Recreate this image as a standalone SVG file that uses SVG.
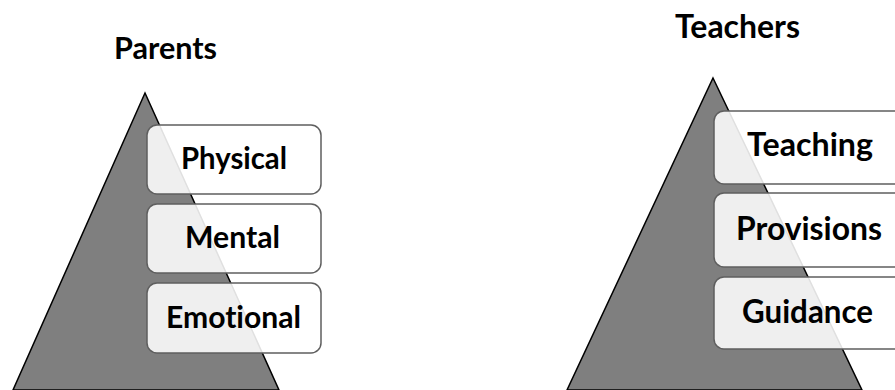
<svg xmlns="http://www.w3.org/2000/svg" width="895" height="390" viewBox="0 0 895 390">
  <style>
    .pyramid { fill: #7f7f7f; stroke: #000; stroke-width: 1.5; stroke-linejoin: miter; }
    .box { fill: #fff; fill-opacity: 0.88; stroke: #5f5f5f; stroke-width: 1.5; }
    .lbl { font-family: Lato, "Open Sans", "Liberation Sans", sans-serif; font-weight: bold; fill: #000; text-anchor: middle; font-variant-ligatures: none; }
    .s { font-size: 30px; }
    .l { font-size: 32px; }
  </style>
  <rect width="895" height="390" fill="#fff"/>

  <!-- Parents pyramid -->
  <g id="parents">
    <text class="lbl s" x="165.5" y="59" textLength="103" lengthAdjust="spacingAndGlyphs">Parents</text>
    <polygon class="pyramid" points="145,93 279,390 13,390"/>
    <g id="physical">
      <rect class="box" x="147" y="125" width="174" height="69" rx="10"/>
      <text class="lbl s" x="234" y="169" textLength="106" lengthAdjust="spacingAndGlyphs">Physical</text>
    </g>
    <g id="mental">
      <rect class="box" x="147" y="204" width="174" height="69" rx="10"/>
      <text class="lbl s" x="232.5" y="248" textLength="95" lengthAdjust="spacingAndGlyphs">Mental</text>
    </g>
    <g id="emotional">
      <rect class="box" x="147" y="283" width="174" height="70" rx="10"/>
      <text class="lbl s" x="233.5" y="328" textLength="135" lengthAdjust="spacingAndGlyphs">Emotional</text>
    </g>
  </g>

  <!-- Teachers pyramid -->
  <g id="teachers">
    <text class="lbl l" x="737.5" y="38" textLength="125" lengthAdjust="spacingAndGlyphs">Teachers</text>
    <polygon class="pyramid" points="713,78 862,390 567,390"/>
    <g id="teaching">
      <rect class="box" x="714" y="111" width="195" height="73" rx="10"/>
      <text class="lbl l" x="810" y="156" textLength="126" lengthAdjust="spacingAndGlyphs">Teaching</text>
    </g>
    <g id="provisions">
      <rect class="box" x="714" y="193" width="195" height="74" rx="10"/>
      <text class="lbl l" x="809" y="240" textLength="146" lengthAdjust="spacingAndGlyphs">Provisions</text>
    </g>
    <g id="guidance">
      <rect class="box" x="714" y="277" width="195" height="72" rx="10"/>
      <text class="lbl l" x="807.5" y="323" textLength="131" lengthAdjust="spacingAndGlyphs">Guidance</text>
    </g>
  </g>

  <g id="connectors"/>
</svg>
